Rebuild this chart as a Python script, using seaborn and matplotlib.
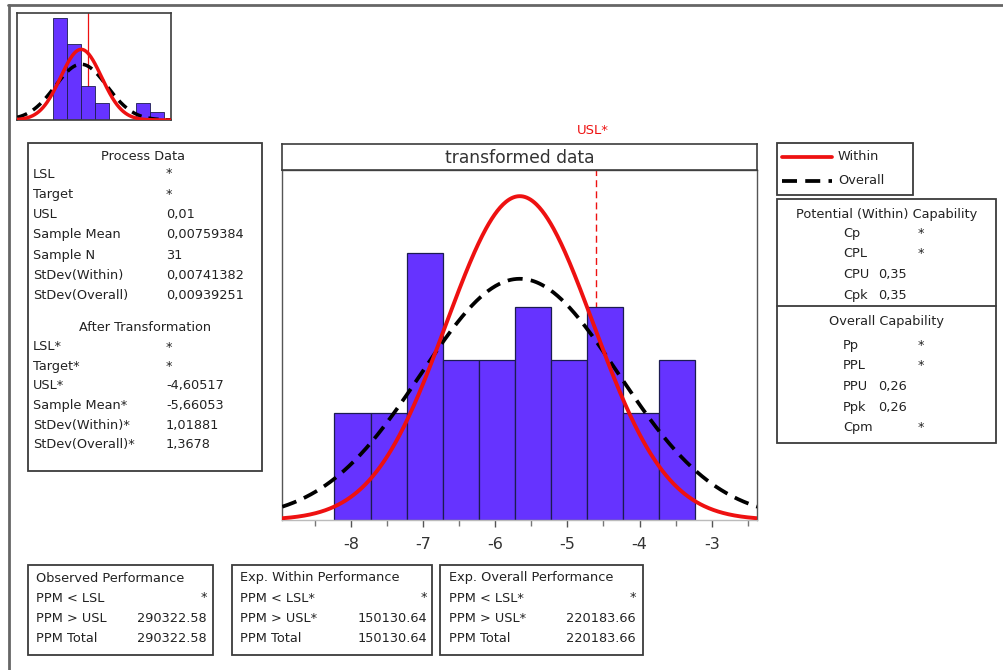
import numpy as np
import pandas as pd
import matplotlib
matplotlib.use("Agg")
import matplotlib.pyplot as plt
import seaborn as sns
from matplotlib.patches import Rectangle
from matplotlib.lines import Line2D

# ---------------- data ----------------
bin_edges = [-8.23, -7.73, -7.23, -6.73, -6.23, -5.73, -5.23, -4.73, -4.23, -3.73, -3.23]
bin_counts = [2, 2, 5, 3, 3, 4, 3, 4, 2, 3]
inset_edges = [-0.0025, 0.0025, 0.0075, 0.0125, 0.0175, 0.0225, 0.0275, 0.0325, 0.0375]
inset_counts = [12, 9, 4, 2, 0, 0, 2, 1]

n_obs = 31
usl_t = -4.60517
mean_t = -5.66053
sd_within_t = 1.01881
sd_overall_t = 1.3678
usl_o = 0.01
mean_o = 0.00759384
sd_within_o = 0.00741382
sd_overall_o = 0.00939251

major_ticks = [-8, -7, -6, -5, -4, -3]
minor_ticks = [-8.5, -7.5, -6.5, -5.5, -4.5, -3.5, -2.5]

pd_labels = ["LSL", "Target", "USL", "Sample Mean", "Sample N", "StDev(Within)", "StDev(Overall)"]
pd_values = ["*", "*", "0,01", "0,00759384", "31", "0,00741382", "0,00939251"]
at_labels = ["LSL*", "Target*", "USL*", "Sample Mean*", "StDev(Within)*", "StDev(Overall)*"]
at_values = ["*", "*", "-4,60517", "-5,66053", "1,01881", "1,3678"]

pot_labels = ["Cp", "CPL", "CPU", "Cpk"]
pot_values = ["*", "*", "0,35", "0,35"]
ovr_labels = ["Pp", "PPL", "PPU", "Ppk", "Cpm"]
ovr_values = ["*", "*", "0,26", "0,26", "*"]

perf_titles = ["Observed Performance", "Exp. Within Performance", "Exp. Overall Performance"]
perf_labels = [["PPM < LSL", "PPM > USL", "PPM Total"],
               ["PPM < LSL*", "PPM > USL*", "PPM Total"],
               ["PPM < LSL*", "PPM > USL*", "PPM Total"]]
perf_values = [["*", "290322.58", "290322.58"],
               ["*", "150130.64", "150130.64"],
               ["*", "220183.66", "220183.66"]]

# ---------------- style ----------------
sns.set_style("white")
plt.rcParams["font.family"] = ["DejaVu Sans"]

W, H = 1004, 670
fig = plt.figure(figsize=(W / 100, H / 100), dpi=100)
fig.patch.set_facecolor("white")

BAR = "#6633FF"
BAR_EDGE = "#1c1c50"
RED = "#EE1111"
TXT = "#222222"
FRAME = "#3c3c3c"
FS = 9.3


def fx(x):
    return x / W


def fy(y):
    return 1 - y / H


def axes_px(x0, y0, x1, y1):
    return fig.add_axes([fx(x0), fy(y1), (x1 - x0) / W, (y1 - y0) / H])


def T(x, y, s, ha="left", size=FS, color=TXT, **kw):
    fig.text(fx(x), fy(y), s, ha=ha, va="center", fontsize=size, color=color, **kw)


def box(x0, y0, x1, y1, lw=1.3):
    fig.add_artist(Rectangle((fx(x0), fy(y1)), (x1 - x0) / W, (y1 - y0) / H,
                             transform=fig.transFigure, fill=False, ec=FRAME, lw=lw))


def hline(x0, x1, y, **kw):
    fig.add_artist(Line2D([fx(x0), fx(x1)], [fy(y), fy(y)], transform=fig.transFigure, **kw))


# outer border (top and left)
hline(8, W, 5, color="#666666", lw=2)
fig.add_artist(Line2D([fx(9), fx(9)], [fy(5), 0], transform=fig.transFigure, color="#666666", lw=2))

# ---------------- main histogram ----------------
ax = axes_px(282.3, 170, 757.3, 520)
xmin, xmax = -8.953, -2.367
bw = bin_edges[1] - bin_edges[0]
centers = [(a + b) / 2 for a, b in zip(bin_edges[:-1], bin_edges[1:])]
ax.axvline(usl_t, color=RED, lw=1.0, ls=(0, (5, 3)), zorder=0)
sns.histplot(x=centers, weights=bin_counts, bins=bin_edges, stat="count",
             color=BAR, edgecolor=BAR_EDGE, linewidth=0.9, alpha=1, ax=ax, zorder=2)
xs = np.linspace(xmin, xmax, 500)
df_curves = pd.DataFrame({
    "x": xs,
    "within": n_obs * bw * np.exp(-0.5 * ((xs - mean_t) / sd_within_t) ** 2) / (sd_within_t * np.sqrt(2 * np.pi)),
    "overall": n_obs * bw * np.exp(-0.5 * ((xs - mean_t) / sd_overall_t) ** 2) / (sd_overall_t * np.sqrt(2 * np.pi)),
})
sns.lineplot(data=df_curves, x="x", y="overall", color="black", lw=2.7, ls=(0, (4, 2.2)), ax=ax, zorder=4)
sns.lineplot(data=df_curves, x="x", y="within", color=RED, lw=2.8, ax=ax, zorder=5)
ax.set_xlim(xmin, xmax)
ax.set_ylim(0, 6.56)
ax.set_xticks(major_ticks)
ax.set_xticklabels([str(t) for t in major_ticks])
ax.set_xticks(minor_ticks, minor=True)
ax.set_yticks([])
ax.set_xlabel("")
ax.set_ylabel("")
ax.tick_params(axis="x", which="major", direction="out", length=5, width=1, color="#555555",
               labelsize=11.5, labelcolor="#333333", pad=7, bottom=True)
ax.tick_params(axis="x", which="minor", direction="out", length=4, width=1, color="#777777", bottom=True)
for sp in ax.spines.values():
    sp.set_color("#555555")
    sp.set_linewidth(1.0)
ax.spines["bottom"].set_color("#bbbbbb")

# title strip
axt = axes_px(282.3, 144, 757.3, 170)
axt.set_xticks([])
axt.set_yticks([])
for sp in axt.spines.values():
    sp.set_color(FRAME)
    sp.set_linewidth(1.2)
axt.text(0.5, 0.45, "transformed data", ha="center", va="center", fontsize=12.3, color="#333333",
         transform=axt.transAxes)
T(593, 131, "USL*", ha="center", size=9.5, color=RED)

# ---------------- inset ----------------
axi = axes_px(17.3, 13.3, 171, 120)
iw = inset_edges[1] - inset_edges[0]
icenters = [(a + b) / 2 for a, b in zip(inset_edges[:-1], inset_edges[1:])]
ixmin, ixmax = -0.0155, 0.0401
axi.axvline(usl_o, color=RED, lw=0.9, zorder=1)
sns.histplot(x=icenters, weights=inset_counts, bins=inset_edges, stat="count",
             color=BAR, edgecolor=BAR_EDGE, linewidth=0.6, alpha=1, ax=axi, zorder=2)
ixs = np.linspace(ixmin, ixmax, 300)
df_in = pd.DataFrame({
    "x": ixs,
    "within": n_obs * iw * np.exp(-0.5 * ((ixs - mean_o) / sd_within_o) ** 2) / (sd_within_o * np.sqrt(2 * np.pi)),
    "overall": n_obs * iw * np.exp(-0.5 * ((ixs - mean_o) / sd_overall_o) ** 2) / (sd_overall_o * np.sqrt(2 * np.pi)),
})
sns.lineplot(data=df_in, x="x", y="overall", color="black", lw=2.5, ls=(0, (3, 2)), ax=axi, zorder=4)
sns.lineplot(data=df_in, x="x", y="within", color=RED, lw=2.5, ax=axi, zorder=5)
axi.set_xlim(ixmin, ixmax)
axi.set_ylim(0, 12.6)
axi.set_xticks([])
axi.set_yticks([])
axi.set_xlabel("")
axi.set_ylabel("")
for sp in axi.spines.values():
    sp.set_color(FRAME)
    sp.set_linewidth(1.2)

# ---------------- process data box ----------------
box(28, 143, 262, 471)
T(143, 156, "Process Data", ha="center")
y0 = 174
for i, (lab, val) in enumerate(zip(pd_labels, pd_values)):
    y = y0 + i * 20.3
    T(33, y, lab)
    T(166, y, val)
T(145, 328, "After Transformation", ha="center")
y0 = 347
for i, (lab, val) in enumerate(zip(at_labels, at_values)):
    y = y0 + i * 19.5
    T(33, y, lab)
    T(166, y, val)

# ---------------- legend box ----------------
box(777, 143, 913, 195)
hline(782, 832, 157, color=RED, lw=2.7)
hline(782, 832, 181, color="black", lw=2.7, ls=(0, (4, 2.2)))
T(838, 157, "Within")
T(838, 181, "Overall")

# ---------------- capability box ----------------
box(777, 199, 996, 443)
hline(777, 996, 306, color=FRAME, lw=1.3)
T(887, 215, "Potential (Within) Capability", ha="center")
for i, (lab, val) in enumerate(zip(pot_labels, pot_values)):
    y = 233 + i * 20.7
    T(843, y, lab)
    if val == "*":
        T(921, y, val, ha="center")
    else:
        T(878, y, val)
T(887, 322, "Overall Capability", ha="center")
for i, (lab, val) in enumerate(zip(ovr_labels, ovr_values)):
    y = 345 + i * 20.7
    T(843, y, lab)
    if val == "*":
        T(921, y, val, ha="center")
    else:
        T(878, y, val)

# ---------------- performance boxes ----------------
perf_boxes = [(28, 213, 36, 207), (232, 432, 240, 427), (440, 643, 449, 636)]
for (bx0, bx1, lx, vx), title, labs, vals in zip(perf_boxes, perf_titles, perf_labels, perf_values):
    box(bx0, 565, bx1, 655)
    T(lx, 578, title)
    for j, (lab, val) in enumerate(zip(labs, vals)):
        y = 598 + j * 20
        T(lx, y, lab)
        T(vx, y, val, ha="right")

fig.savefig("out.png", dpi=100, facecolor="white")
